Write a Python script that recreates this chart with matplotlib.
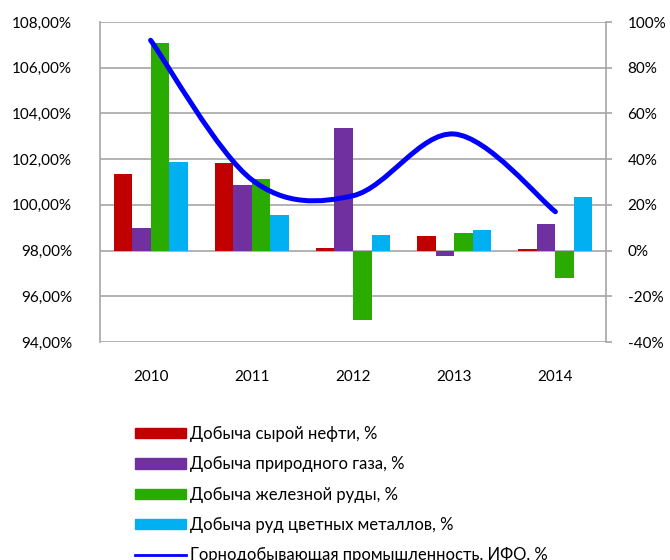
import matplotlib
matplotlib.use('Agg')
import matplotlib.pyplot as plt
from matplotlib.path import Path
from matplotlib.patches import PathPatch, Patch
from matplotlib.lines import Line2D
import numpy as np

plt.rcParams['font.family'] = ['Lato', 'DejaVu Sans']

# data
years = ['2010', '2011', '2012', '2013', '2014']
oil = [101.36, 101.85, 98.13, 98.62, 98.07]
gas = [98.97, 100.86, 103.38, 97.76, 99.16]
iron = [107.07, 101.12, 94.96, 98.76, 96.80]
metals = [101.86, 99.54, 98.67, 98.91, 100.36]
mining = [92, 31, 24, 51, 17]

names = ['Добыча сырой нефти, %', 'Добыча природного газа, %',
         'Добыча железной руды, %', 'Добыча руд цветных металлов, %']
line_name = 'Горнодобывающая промышленность, ИФО, %'
colors = ['#C00000', '#7030A0', '#2AAB00', '#00B0F0']
grid_c = '#A6A6A6'

fig = plt.figure(figsize=(6.7, 5.6), dpi=100)
ax = fig.add_axes([100/670, 1-342/560, 506/670, 320/560])
ax2 = ax.twinx()

x = np.arange(len(years))
w = 0.183
series = [oil, gas, iron, metals]
for i, s in enumerate(series):
    vals = np.array(s)
    ax.bar(x + (i - 1.5) * w, vals - 98, bottom=98, width=w,
           color=colors[i], zorder=3)

ax.set_xlim(-0.5, 4.5)
ax.set_ylim(94, 108)
ax.set_yticks(np.arange(94, 108.1, 2))
ax.set_yticklabels([('%.2f' % v).replace('.', ',') + '%' for v in np.arange(94, 108.1, 2)])
ax.yaxis.grid(True, color=grid_c, lw=1.2, zorder=0)
ax.set_axisbelow(True)
ax.set_xticks(x)
ax.set_xticklabels(years)
ax.tick_params(axis='x', length=0, pad=20, labelsize=11)
ax.tick_params(axis='y', length=0, pad=20, labelsize=11)

ax2.set_ylim(-40, 100)
ax2.set_yticks(np.arange(-40, 101, 20))
ax2.set_yticklabels(['%d%%' % v for v in np.arange(-40, 101, 20)])
ax2.tick_params(axis='y', length=4.5, width=1.2, color=grid_c, pad=11, labelsize=11)

for a in (ax, ax2):
    for sp in a.spines.values():
        sp.set_visible(False)
ax.spines['left'].set_visible(True)
ax.spines['left'].set_color(grid_c)
ax.spines['left'].set_linewidth(1.2)
ax2.spines['right'].set_visible(True)
ax2.spines['right'].set_color(grid_c)
ax2.spines['right'].set_linewidth(1.2)

# smoothed line (Excel-style bezier)
px = list(x.astype(float))
py = list(mining)
n = len(px)
verts = [(px[0], py[0])]
codes = [Path.MOVETO]
for i in range(n - 1):
    p0 = (px[max(i - 1, 0)], py[max(i - 1, 0)])
    p1 = (px[i], py[i])
    p2 = (px[i + 1], py[i + 1])
    p3 = (px[min(i + 2, n - 1)], py[min(i + 2, n - 1)])
    c1 = (p1[0] + (p2[0] - p0[0]) / 6, p1[1] + (p2[1] - p0[1]) / 6)
    c2 = (p2[0] - (p3[0] - p1[0]) / 6, p2[1] - (p3[1] - p1[1]) / 6)
    verts += [c1, c2, p2]
    codes += [Path.CURVE4] * 3
ax2.add_patch(PathPatch(Path(verts, codes), facecolor='none', edgecolor='#0000FF',
                        lw=3.6, capstyle='round', zorder=5))

handles = [Patch(color=c) for c in colors] + [Line2D([0], [0], color='#0000FF', lw=2)]
fig.legend(handles, names + [line_name], loc='upper left',
           bbox_to_anchor=(135/670, 1-426/560), frameon=False, fontsize=12,
           handlelength=3.05, handleheight=0.6, handletextpad=0.25,
           labelspacing=0.86, borderpad=0, borderaxespad=0)

fig.savefig('out.png', dpi=100)
